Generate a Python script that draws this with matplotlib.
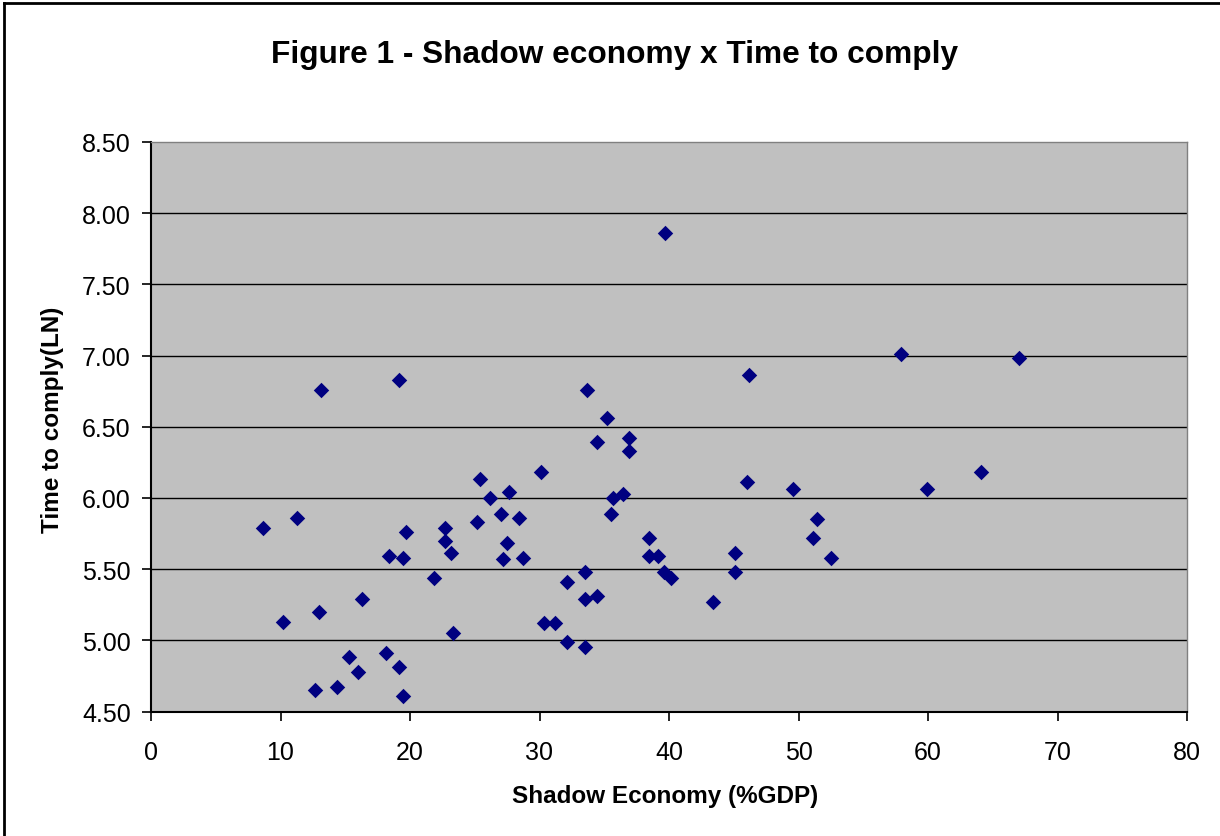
import matplotlib
matplotlib.use("Agg")
import matplotlib.pyplot as plt
from matplotlib.lines import Line2D

plt.rcParams['font.family'] = ['Liberation Sans', 'DejaVu Sans']

shadow_economy = [
    8.62, 11.25, 19.72, 22.68, 22.68, 18.35, 19.43, 23.14, 21.88, 16.32,
    12.97, 10.17, 23.30, 15.26, 18.17, 16.01, 19.12, 12.64, 14.34, 19.43,
    13.10, 19.13, 35.19, 34.42, 36.89, 36.89, 30.09, 25.43, 26.20, 27.62,
    35.65, 36.42, 35.50, 27.00, 28.39, 25.15, 27.47, 27.16, 28.70, 38.43,
    38.43, 39.15, 39.59, 40.13, 45.07, 45.07, 43.37, 33.49, 32.10, 33.49,
    34.42, 30.35, 31.17, 32.10, 33.49, 33.64, 39.72, 57.89, 67.00, 46.15,
    46.00, 49.55, 59.90, 64.07, 51.40, 51.10, 52.50,
]
time_to_comply = [
    5.79, 5.86, 5.76, 5.79, 5.70, 5.59, 5.58, 5.61, 5.44, 5.29,
    5.20, 5.13, 5.05, 4.88, 4.91, 4.78, 4.81, 4.65, 4.67, 4.61,
    6.76, 6.83, 6.56, 6.39, 6.42, 6.33, 6.18, 6.13, 6.00, 6.04,
    6.00, 6.03, 5.89, 5.89, 5.86, 5.83, 5.68, 5.57, 5.58, 5.72,
    5.59, 5.59, 5.48, 5.44, 5.61, 5.48, 5.27, 5.48, 5.41, 5.29,
    5.31, 5.12, 5.12, 4.99, 4.95, 6.76, 7.86, 7.01, 6.98, 6.86,
    6.11, 6.06, 6.06, 6.18, 5.85, 5.72, 5.58,
]
x_ticks = [0, 10, 20, 30, 40, 50, 60, 70, 80]
y_ticks = [4.50, 5.00, 5.50, 6.00, 6.50, 7.00, 7.50, 8.00, 8.50]

W, H = 1220, 837
fig = plt.figure(figsize=(W / 100, H / 100), dpi=100)
fig.patch.set_facecolor('white')
ax = fig.add_axes([151 / W, 1 - 712.5 / H, (1187 - 151) / W, (712.5 - 143) / H])
ax.set_facecolor('#C0C0C0')

ax.set_xlim(0, 80)
ax.set_ylim(4.5, 8.5)
ax.set_xticks(x_ticks)
ax.set_yticks(y_ticks)
ax.set_xticklabels([str(t) for t in x_ticks])
ax.set_yticklabels([f"{t:.2f}" for t in y_ticks])

for y in y_ticks[1:-1]:
    ax.axhline(y, color='black', linewidth=1.0, zorder=1)

ax.scatter(shadow_economy, time_to_comply, marker='D', s=62, color='#000080',
           linewidths=0, zorder=3)

for side in ['top', 'right']:
    ax.spines[side].set_color('#808080')
    ax.spines[side].set_linewidth(1.0)
for side in ['left', 'bottom']:
    ax.spines[side].set_color('black')
    ax.spines[side].set_linewidth(1.5)

ax.tick_params(axis='both', direction='out', length=6.5, width=1.2, color='black',
               labelsize=18, labelcolor='black')
ax.tick_params(axis='x', pad=14)
ax.tick_params(axis='y', pad=8)

fig.text(665 / W, 1 - 797 / H, 'Shadow Economy (%GDP)', ha='center', va='center',
         fontsize=17.5, fontweight='bold')
fig.text(53 / W, 1 - 420 / H, 'Time to comply(LN)', ha='center', va='center',
         rotation=90, fontsize=17.5, fontweight='bold')

fig.text(615 / W, 1 - 55 / H, 'Figure 1 - Shadow economy x Time to comply',
         ha='center', va='center', fontsize=22.8, fontweight='bold')

# outer chart frame (left and top edges visible)
fig.add_artist(Line2D([4 / W, 4 / W], [0, 1 - 4 / H], color='black', linewidth=2,
                      transform=fig.transFigure))
fig.add_artist(Line2D([4 / W, 1], [1 - 4 / H, 1 - 4 / H], color='black', linewidth=2,
                      transform=fig.transFigure))

fig.savefig('out.png', dpi=100)
